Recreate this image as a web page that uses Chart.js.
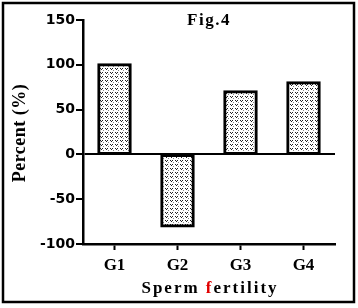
<!DOCTYPE html>
<html><head><meta charset="utf-8">
<script src="https://cdn.jsdelivr.net/npm/chart.js@4"></script>
<style>html,body{margin:0;padding:0;background:#fff}#wrap{width:358px;height:308px;position:relative}</style>
</head><body><div id="wrap"><canvas id="c" width="358" height="308"></canvas></div>
<script>
const categories = ["G1", "G2", "G3", "G4"];
const values = [100, -80, 70, 80];
const yTicks = [-100, -50, 0, 50, 100, 150];
const titleText = "Fig.4";
const yTitle = "Percent (%)";
const xTitleParts = [["Sperm ", "#000"], ["f", "#e00000"], ["ertility", "#000"]];

function makePattern() {
  const p = document.createElement('canvas');
  p.width = 5; p.height = 4;
  const g = p.getContext('2d');
  g.fillStyle = '#fff'; g.fillRect(0, 0, 5, 4);
  g.fillStyle = '#222';
  g.fillRect(0, 0, 1, 1);
  g.fillRect(2, 0, 1, 1);
  g.fillRect(1, 1, 1, 1);
  g.fillStyle = '#888';
  g.fillRect(3, 2, 1, 1);
  return g.createPattern(p, 'repeat');
}

const decor = {
  id: 'decor',
  beforeDraw(chart) {
    const ctx = chart.ctx;
    ctx.save();
    ctx.fillStyle = '#fff';
    ctx.fillRect(0, 0, chart.width, chart.height);
    ctx.restore();
  },
  afterDraw(chart) {
    const ctx = chart.ctx;
    ctx.save();
    ctx.strokeStyle = '#000';
    ctx.lineWidth = 2.5;
    ctx.strokeRect(3, 3, 351, 299);
    // Title
    ctx.fillStyle = '#000';
    ctx.font = 'bold 17px "Liberation Serif"';
    ctx.textAlign = 'center';
    ctx.textBaseline = 'middle';
    if ('letterSpacing' in ctx) ctx.letterSpacing = '1.5px';
    ctx.fillText(titleText, 209, 21);
    // Y title
    ctx.save();
    ctx.translate(20, 133);
    ctx.rotate(-Math.PI / 2);
    if ('letterSpacing' in ctx) ctx.letterSpacing = '0.5px';
    ctx.font = 'bold 18px "Liberation Serif"';
    ctx.fillText(yTitle, 0, 0);
    ctx.restore();
    // X title
    ctx.font = 'bold 17px "Liberation Serif"';
    if ('letterSpacing' in ctx) ctx.letterSpacing = '2px';
    ctx.textAlign = 'left';
    let total = 0;
    xTitleParts.forEach(p => total += ctx.measureText(p[0]).width);
    let x = 210 - total / 2;
    xTitleParts.forEach(p => {
      ctx.fillStyle = p[1];
      ctx.fillText(p[0], x, 289);
      x += ctx.measureText(p[0]).width;
    });
    ctx.restore();
  }
};

new Chart(document.getElementById('c'), {
  type: 'bar',
  data: {
    labels: categories,
    datasets: [{
      data: values,
      backgroundColor: makePattern(),
      borderColor: '#000',
      borderWidth: 3,
      borderSkipped: false,
      inflateAmount: 1.5,
      barPercentage: 0.5,
      categoryPercentage: 1
    }]
  },
  options: {
    responsive: false,
    animation: false,
    devicePixelRatio: 1,
    layout: { padding: { top: 20, right: 23, left: 0, bottom: 0 } },
    plugins: { legend: { display: false }, tooltip: { enabled: false } },
    scales: {
      x: {
        offset: true,
        afterFit(s) { s.height = 64; },
        border: { display: true, color: '#000', width: 2.5 },
        grid: { display: true, offset: false, drawOnChartArea: false, tickLength: 6, tickColor: '#000', tickWidth: 2 },
        ticks: { color: '#000', font: { family: '"Liberation Serif"', weight: 'bold', size: 17 }, padding: 5 }
      },
      y: {
        min: -100, max: 150,
        afterFit(s) { s.width = 83; },
        afterBuildTicks(s) { s.ticks = yTicks.map(v => ({ value: v })); },
        border: { display: true, color: '#000', width: 2.5 },
        grid: {
          color: c => (c.tick && c.tick.value === 0) ? '#000' : 'rgba(0,0,0,0)',
          lineWidth: 2,
          tickLength: 7, tickColor: '#000', tickWidth: 2
        },
        ticks: { color: '#000', font: { family: '"DejaVu Sans"', weight: 'bold', size: 14 }, padding: 1 }
      }
    }
  },
  plugins: [decor]
});
</script></body></html>
